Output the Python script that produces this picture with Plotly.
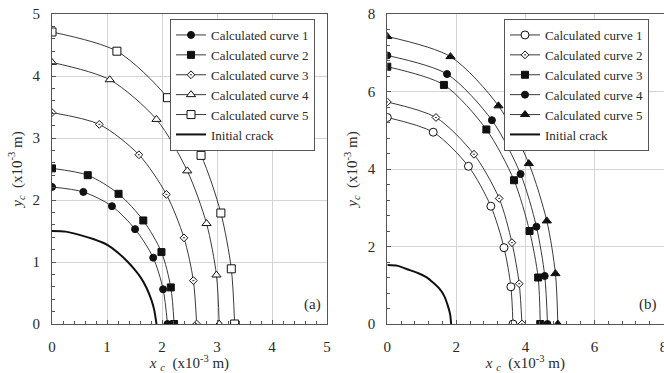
import plotly.graph_objects as go

# ---------------- Panel (a) data ----------------
a_names = ["Calculated curve 1", "Calculated curve 2", "Calculated curve 3",
           "Calculated curve 4", "Calculated curve 5"]
a1_x = [0.0, 0.57, 1.09, 1.51, 1.84, 2.02, 2.10]
a1_y = [2.21, 2.13, 1.90, 1.53, 1.07, 0.56, 0.0]
a2_x = [0.0, 0.65, 1.21, 1.66, 1.99, 2.16, 2.22]
a2_y = [2.51, 2.40, 2.10, 1.67, 1.16, 0.59, 0.0]
a3_x = [0.0, 0.86, 1.58, 2.08, 2.40, 2.57, 2.63]
a3_y = [3.41, 3.22, 2.73, 2.09, 1.39, 0.70, 0.0]
a4_x = [0.0, 1.05, 1.90, 2.46, 2.81, 2.99, 3.04]
a4_y = [4.22, 3.94, 3.30, 2.47, 1.62, 0.79, 0.0]
a5_x = [0.0, 1.18, 2.10, 2.71, 3.07, 3.26, 3.32]
a5_y = [4.71, 4.40, 3.65, 2.72, 1.79, 0.89, 0.0]
a_crack_x = [0.0, 0.25, 0.53, 0.75, 1.02, 1.20, 1.38, 1.50, 1.62, 1.72, 1.81, 1.86, 1.90]
a_crack_y = [1.50, 1.49, 1.43, 1.37, 1.27, 1.15, 1.00, 0.88, 0.74, 0.58, 0.38, 0.22, 0.0]

# ---------------- Panel (b) data ----------------
b1_x = [0.0, 1.33, 2.35, 3.00, 3.38, 3.58, 3.64]
b1_y = [5.33, 4.95, 4.07, 3.04, 1.97, 0.96, 0.0]
b2_x = [0.0, 1.41, 2.51, 3.24, 3.61, 3.82, 3.90]
b2_y = [5.73, 5.33, 4.38, 3.24, 2.10, 1.04, 0.0]
b3_x = [0.0, 1.64, 2.87, 3.67, 4.12, 4.37, 4.43]
b3_y = [6.64, 6.17, 5.02, 3.71, 2.40, 1.20, 0.0]
b4_x = [0.0, 1.73, 3.03, 3.86, 4.32, 4.56, 4.64]
b4_y = [6.93, 6.45, 5.26, 3.87, 2.51, 1.24, 0.0]
b5_x = [0.0, 1.83, 3.22, 4.10, 4.62, 4.87, 4.94]
b5_y = [7.42, 6.90, 5.63, 4.14, 2.66, 1.30, 0.0]
b_crack_x = [0.0, 0.30, 0.65, 0.90, 1.13, 1.35, 1.51, 1.65, 1.75, 1.82, 1.85]
b_crack_y = [1.52, 1.50, 1.39, 1.31, 1.21, 1.05, 0.91, 0.72, 0.48, 0.25, 0.0]

a_ticks = [0, 1, 2, 3, 4, 5]
b_ticks = [0, 2, 4, 6, 8]

FONT = "Liberation Serif"
LINE_C = "#3a3a3a"
MK_C = "#111111"
TXT_C = "#2a2a2a"

fig = go.Figure()


def add_curve(x, y, name, symbol, size, filled, xa, ya, leg):
    fig.add_trace(go.Scatter(
        x=x, y=y, name=name, mode="lines+markers",
        line=dict(color=LINE_C, width=1, shape="spline", smoothing=0.8),
        marker=dict(symbol=symbol, size=size,
                    color=MK_C if filled else "white",
                    line=dict(color=MK_C, width=1)),
        xaxis=xa, yaxis=ya, legend=leg))


def add_crack(x, y, xa, ya, leg):
    fig.add_trace(go.Scatter(
        x=x, y=y, name="Initial crack", mode="lines",
        line=dict(color="#111111", width=2, shape="spline", smoothing=0.6),
        xaxis=xa, yaxis=ya, legend=leg))


a_sets = [(a1_x, a1_y, "circle", 7, True), (a2_x, a2_y, "square", 7, True),
          (a3_x, a3_y, "diamond-dot", 6, False), (a4_x, a4_y, "triangle-up", 8, False),
          (a5_x, a5_y, "square", 8, False)]
for (x, y, s, sz, f), n in zip(a_sets, a_names):
    add_curve(x, y, n, s, sz, f, "x", "y", "legend")
add_crack(a_crack_x, a_crack_y, "x", "y", "legend")

b_sets = [(b1_x, b1_y, "circle", 8, False), (b2_x, b2_y, "diamond-dot", 6, False),
          (b3_x, b3_y, "square", 7, True), (b4_x, b4_y, "circle", 7, True),
          (b5_x, b5_y, "triangle-up", 8, True)]
for (x, y, s, sz, f), n in zip(b_sets, a_names):
    add_curve(x, y, n, s, sz, f, "x2", "y2", "legend2")
add_crack(b_crack_x, b_crack_y, "x2", "y2", "legend2")

W, H = 664, 373
ydom = [1 - 324 / H, 1 - 14 / H]

axis_common = dict(showgrid=True, gridcolor="#d4d4d4", gridwidth=1,
                   showline=True, linecolor="#555555", linewidth=1, mirror=True,
                   ticks="inside", ticklen=4, tickcolor="#555555",
                   tickfont=dict(family=FONT, size=15, color=TXT_C),
                   zeroline=False, automargin=False)

xtitle = "<i>x</i> <sub><i>c</i></sub>  (x10<sup>-3</sup> m)"
ytitle = "<i>y</i><sub><i>c</i></sub>  (x10<sup>-3</sup> m)"
tfont = dict(family=FONT, size=15, color=TXT_C)
minor_a = dict(dtick=0.2, ticks="inside", ticklen=3, tickcolor="#555555", showgrid=False)
minor_b = dict(dtick=0.4, ticks="inside", ticklen=3, tickcolor="#555555", showgrid=False)

fig.update_layout(
    width=W, height=H, margin=dict(l=0, r=0, t=0, b=0),
    paper_bgcolor="white", plot_bgcolor="white",
    font=dict(family=FONT, color=TXT_C),
    xaxis=dict(domain=[52 / W, 327 / W], range=[0, 5], tickvals=a_ticks, minor=minor_a,
               ticklabelstandoff=9,
               title=dict(text=xtitle, font=tfont, standoff=4), anchor="y", **axis_common),
    yaxis=dict(domain=ydom, range=[0, 5], tickvals=a_ticks, minor=minor_a,
               ticklabelstandoff=8,
               title=dict(text=ytitle, font=tfont, standoff=6), anchor="x", **axis_common),
    xaxis2=dict(domain=[387.3 / W, 663.5 / W], range=[0, 8], tickvals=b_ticks, minor=minor_b,
                ticklabelstandoff=9, ticklabeloverflow="allow",
                title=dict(text=xtitle, font=tfont, standoff=4), anchor="y2", **axis_common),
    yaxis2=dict(domain=ydom, range=[0, 8], tickvals=b_ticks, minor=minor_b,
                ticklabelstandoff=8,
                title=dict(text=ytitle, font=tfont, standoff=6), anchor="x2", **axis_common),
    legend=dict(x=170 / W, y=1 - 19 / H, xanchor="left", yanchor="top",
                bgcolor="white", bordercolor="#555555", borderwidth=1,
                font=dict(family=FONT, size=13, color=TXT_C),
                tracegroupgap=0, itemwidth=30),
    legend2=dict(x=504 / W, y=1 - 19 / H, xanchor="left", yanchor="top",
                 bgcolor="white", bordercolor="#555555", borderwidth=1,
                 font=dict(family=FONT, size=13, color=TXT_C),
                 tracegroupgap=0, itemwidth=30),
    annotations=[
        dict(text="(a)", xref="x domain", yref="y domain", x=0.985, y=0.03,
             xanchor="right", yanchor="bottom", showarrow=False,
             font=dict(family=FONT, size=15, color=TXT_C)),
        dict(text="(b)", xref="x2 domain", yref="y2 domain", x=0.985, y=0.03,
             xanchor="right", yanchor="bottom", showarrow=False,
             font=dict(family=FONT, size=15, color=TXT_C)),
    ],
)

fig.write_html("out.html", config={"displayModeBar": False},
               post_script="document.body.style.margin='0';")
